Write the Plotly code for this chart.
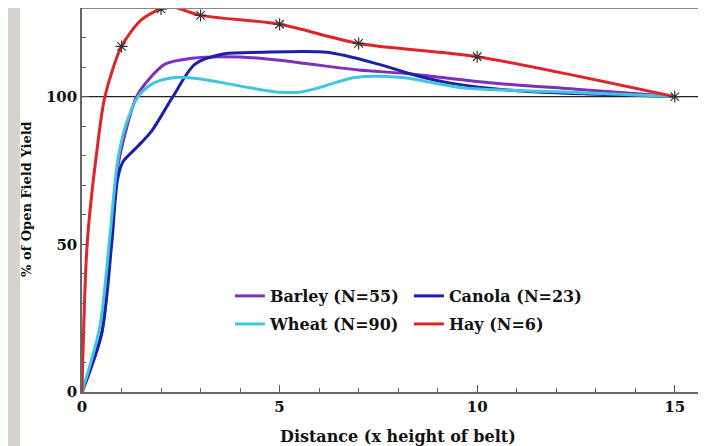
import plotly.graph_objects as go

# ---- data ----
hay_x = [0, 0.13, 0.38, 0.58, 1.0, 1.5, 2.0, 2.3, 3, 5, 7, 10, 15]
hay_y = [0, 50, 82, 100, 117, 126, 129.7, 130.3, 127.5, 124.5, 118, 113.5, 100]
hay_pts_x = [1, 2, 3, 5, 7, 10, 15]
hay_pts_y = [117, 129.7, 127.5, 124.5, 118, 113.5, 100]

barley_x = [0, 0.5, 0.71, 0.89, 1.1, 1.38, 1.7, 2.1, 2.8, 3.5, 4.5, 5.5, 7, 8.2, 10.3, 12.5, 15]
barley_y = [0, 20, 50, 75, 88, 100, 106, 111, 113, 113.5, 113, 111.5, 109, 107.8, 104.7, 102.5, 100]

wheat_x = [0, 0.45, 0.7, 0.9, 1.1, 1.42, 1.8, 2.35, 3, 4.25, 5, 5.5, 6, 6.9, 8.1, 9.6, 12.3, 15]
wheat_y = [0, 22, 52, 78, 90, 100, 104.5, 106.5, 106, 103, 101.5, 101.5, 103, 106.5, 106.5, 103, 101.5, 100]

canola_x = [0, 0.5, 0.75, 0.9, 1.04, 1.4, 1.77, 2.3, 2.86, 3.6, 4.5, 6.2, 7.5, 8.5, 9.4, 11, 13, 15]
canola_y = [0, 20, 50, 72, 78, 83, 88.5, 100, 111, 114.5, 115, 115, 111, 107, 104.4, 102, 100.8, 100]

names = ["Barley (N=55)", "Canola (N=23)", "Wheat (N=90)", "Hay (N=6)"]
x_title = "Distance (x height of belt)"
y_title = "% of Open Field Yield"
colors = {"barley": "#7b30c0", "canola": "#1d1fab", "wheat": "#3fc6da", "hay": "#de2528"}

FONT = "DejaVu Serif"
INK = "#111111"

fig = go.Figure()

fig.add_trace(go.Scatter(x=barley_x, y=barley_y, mode="lines", name=f"<b>{names[0]}</b>",
                         line=dict(color=colors["barley"], width=3, shape="spline", smoothing=0.8),
                         legend="legend"))
fig.add_trace(go.Scatter(x=canola_x, y=canola_y, mode="lines", name=f"<b>{names[1]}</b>",
                         line=dict(color=colors["canola"], width=3, shape="spline", smoothing=0.8),
                         legend="legend"))
fig.add_trace(go.Scatter(x=wheat_x, y=wheat_y, mode="lines", name=f"<b>{names[2]}</b>",
                         line=dict(color=colors["wheat"], width=3, shape="spline", smoothing=0.8),
                         legend="legend2"))
fig.add_trace(go.Scatter(x=hay_x, y=hay_y, mode="lines", name=f"<b>{names[3]}</b>",
                         line=dict(color=colors["hay"], width=3, shape="spline", smoothing=0.8),
                         legend="legend2", legendgroup="hay"))
fig.add_trace(go.Scatter(x=hay_pts_x, y=hay_pts_y, mode="markers", name=names[3],
                         marker=dict(symbol="asterisk-open", size=10, color="#333333",
                                     line=dict(color="#333333", width=1.2)),
                         legend="legend2", legendgroup="hay", showlegend=False))

fig.add_hline(y=100, line=dict(color="#222222", width=1.2), layer="below")

tick_font = dict(family=FONT, size=15, color=INK)
leg_font = dict(family=FONT, size=16, color=INK)

fig.update_layout(
    width=698, height=438,
    margin=dict(l=74, r=0, t=0, b=54),
    paper_bgcolor="white", plot_bgcolor="white",
    font=dict(family=FONT, color=INK),
    xaxis=dict(range=[0, 15.79], dtick=5, tick0=0, ticks="inside", ticklen=7,
               tickcolor="#555555", showgrid=False, zeroline=False,
               showline=True, linecolor="#666666", linewidth=1.5,
               tickfont=tick_font, tickprefix="<b>", ticksuffix="</b>",
               minor=dict(dtick=1, ticks="inside", ticklen=4, tickcolor="#666666", showgrid=False)),
    yaxis=dict(range=[0, 130], dtick=50, tick0=0, ticks="inside", ticklen=7,
               tickcolor="#555555", showgrid=False, zeroline=False,
               showline=True, linecolor="#666666", linewidth=1.5,
               tickfont=tick_font, tickprefix="<b>", ticksuffix="</b>",
               minor=dict(dtick=10, ticks="inside", ticklen=4, tickcolor="#666666", showgrid=False)),
    legend=dict(orientation="h", x=0.237, y=0.25, xanchor="left", yanchor="middle",
                bgcolor="rgba(0,0,0,0)", entrywidth=134, entrywidthmode="pixels",
                font=leg_font, itemwidth=30),
    legend2=dict(orientation="h", x=0.237, y=0.177, xanchor="left", yanchor="middle",
                 bgcolor="rgba(0,0,0,0)", entrywidth=134, entrywidthmode="pixels",
                 font=leg_font, itemwidth=30),
    showlegend=True,
)

# axis titles
fig.add_annotation(text=f"<b>{x_title}</b>", xref="paper", yref="paper",
                   x=0.506, y=-0.117, xanchor="center", yanchor="middle", showarrow=False,
                   font=dict(family=FONT, size=16, color=INK))
fig.add_annotation(text=f"<b>{y_title}</b>", xref="paper", yref="paper",
                   x=-0.088, y=0.503, xanchor="center", yanchor="middle", showarrow=False,
                   textangle=-90, font=dict(family=FONT, size=13, color=INK))

# top border of the plot frame
fig.add_shape(type="line", xref="paper", yref="paper", x0=0, x1=1, y0=1, y1=1,
              line=dict(color="#888888", width=2))
# grey strip of the slide background on the left
fig.add_shape(type="rect", xref="paper", yref="paper", x0=-74/624, x1=-62/624, y0=-1, y1=2,
              fillcolor="#d6d4cc", line=dict(width=0), layer="below")

fig.write_html("out.html")
